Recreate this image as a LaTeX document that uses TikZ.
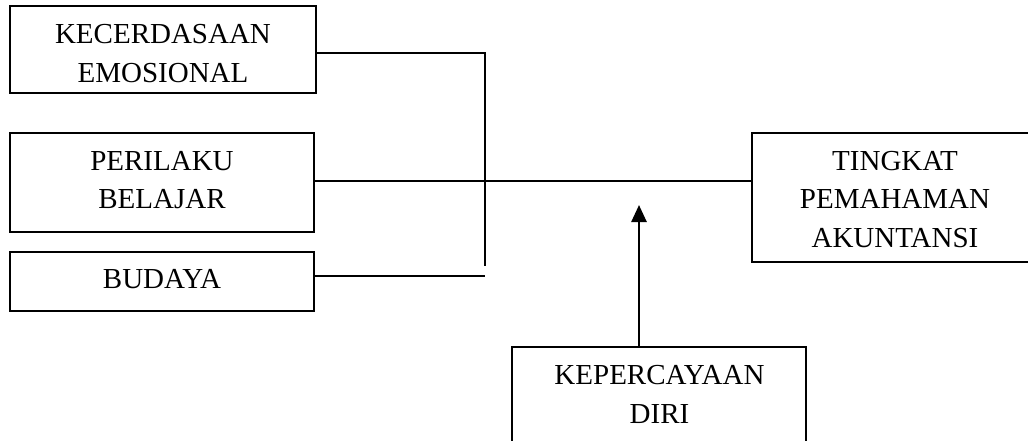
\documentclass[tikz,border=0pt]{standalone}
\usepackage{fontspec}
\setmainfont{Liberation Serif}
\usetikzlibrary{arrows.meta}
\begin{document}
\begin{tikzpicture}[x=1pt,y=-1pt,
  boxshape/.style={draw,line width=2pt,rectangle,inner sep=0pt},
  txt/.style={inner sep=0pt,align=center,font=\fontsize{29}{38.5}\selectfont},
  conn/.style={line width=2pt},
  arr/.style={line width=2.6pt,-{Triangle[width=15pt,length=17pt]}}]
\clip (0,0) rectangle (1028,441);
\useasboundingbox (0,0) rectangle (1028,441);
% boxes
\node[boxshape,minimum width=306pt,minimum height=87pt] (ke) at (163,49.5) {};
\node[boxshape,minimum width=304pt,minimum height=99pt] (pb) at (162,182.5) {};
\node[boxshape,minimum width=304pt,minimum height=59pt] (bd) at (162,281.5) {};
\node[boxshape,minimum width=288pt,minimum height=129pt] (tk) at (896,197.5) {};
\node[boxshape,minimum width=294pt,minimum height=123pt] (kd) at (659,408.5) {};
% texts
\node[txt] (keT) at (163,53.5) {KECERDASAAN\\EMOSIONAL};
\node[txt] (pbT) at (162,180) {PERILAKU\\BELAJAR};
\node[txt] (bdT) at (162,279) {BUDAYA};
\node[txt] (tkT) at (895,199.5) {TINGKAT\\PEMAHAMAN\\AKUNTANSI};
\node[txt] (kdT) at (659.5,394.5) {KEPERCAYAAN\\DIRI};
% junction coordinates
\coordinate (jtop) at (485,53.5);
\coordinate (jbot) at (485,266);
\coordinate (jbud) at (485,276);
\coordinate (mid) at (485,181);
\coordinate (atip) at (639,205);
\coordinate (abase) at (639,347);
% connectors
\draw[conn] (ke.east |- jtop) -- (jtop) -- (jbot);
\draw[conn] (pb.east |- mid) -- (tk.west |- mid);
\draw[conn] (bd.east |- jbud) -- (jbud);
\draw[arr] (abase) -- (atip);
\end{tikzpicture}
\end{document}
